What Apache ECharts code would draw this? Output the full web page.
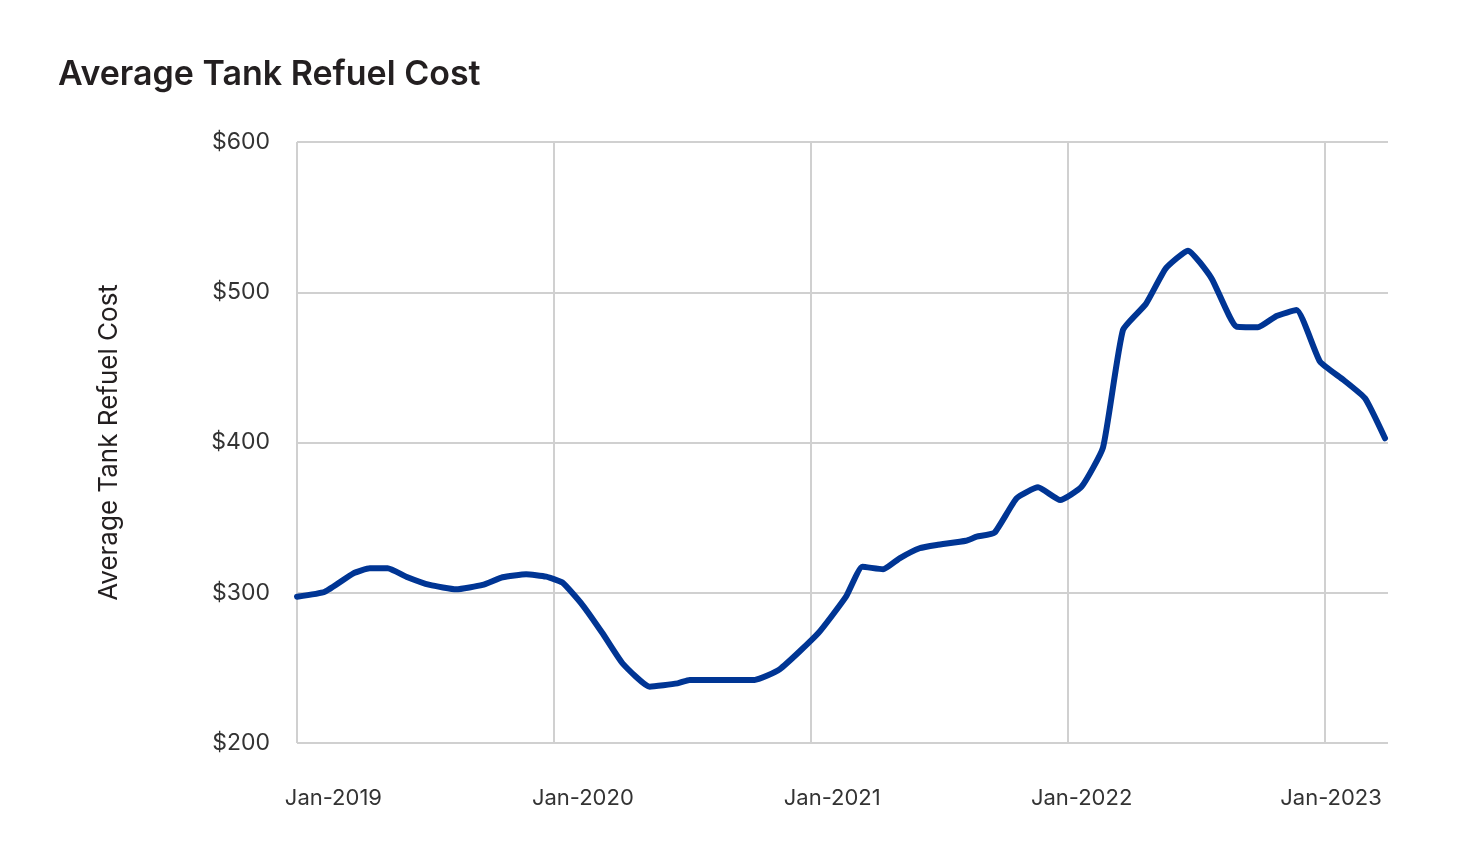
<!DOCTYPE html>
<html>
<head>
<meta charset="utf-8">
<script src="https://cdn.jsdelivr.net/npm/echarts@6/dist/echarts.min.js"></script>
<style>
html,body{margin:0;padding:0;background:#fff;}
#chart{width:1483px;height:865px;}
</style>
</head>
<body>
<div id="chart"></div>
<script>
// Data: observation dates and average tank refuel cost (USD)
const dates = [
  '2019-01-01','2019-02-10','2019-03-20','2019-04-13','2019-05-08','2019-06-04',
  '2019-07-07','2019-08-14','2019-09-21','2019-10-19','2019-11-22','2019-12-20',
  '2020-01-13','2020-02-11','2020-03-09','2020-04-07','2020-05-15','2020-06-24',
  '2020-07-11','2020-10-12','2020-11-17','2021-01-11','2021-02-20','2021-03-13',
  '2021-04-12','2021-05-05','2021-06-03','2021-06-27','2021-08-08','2021-08-23',
  '2021-09-18','2021-10-19','2021-11-19','2021-12-20','2022-01-20','2022-02-20',
  '2022-03-18','2022-04-20','2022-05-18','2022-06-19','2022-07-22','2022-08-27',
  '2022-09-27','2022-10-23','2022-11-21','2022-12-24','2023-01-27','2023-02-27','2023-03-25'
];
const costs = [
  297.4, 300.7, 312.9, 316.3, 316.3, 310.7,
  305.2, 302.3, 305.2, 310.3, 312.3, 310.7,
  306.7, 291.8, 273.0, 253.0, 237.5, 239.7,
  242.0, 242.0, 249.0, 273.0, 297.4, 317.3,
  315.6, 322.9, 329.6, 331.8, 334.6, 337.3,
  340.0, 362.9, 370.2, 361.7, 370.6, 396.7,
  474.9, 492.2, 515.9, 527.7, 509.3, 477.1,
  476.7, 484.2, 488.2, 453.8, 441.6, 429.4, 402.8
];
const xTickLabels = ['Jan-2019','Jan-2020','Jan-2021','Jan-2022','Jan-2023'];
const yTickValues = [200, 300, 400, 500, 600];
const chartTitle = 'Average Tank Refuel Cost';
const yAxisTitle = 'Average Tank Refuel Cost';

// months elapsed since Jan 2019 (value-axis unit)
function toMonths(s) {
  const [y, m, d] = s.split('-').map(Number);
  return (y - 2019) * 12 + (m - 1) + (d - 1) / 30;
}
const seriesData = dates.map((d, i) => [toMonths(d), costs[i]]);

// label anchor positions (layout: labels sit slightly right of year gridlines)
const labelStart = 1.70, labelStep = 11.645;
const labelVals = xTickLabels.map((_, i) => labelStart + i * labelStep);

const FONT = 'Inter, "Noto Sans", sans-serif';
const GRID = '#d0d0d0';

const chart = echarts.init(document.getElementById('chart'), null, {renderer: 'canvas'});
chart.setOption({
  backgroundColor: '#ffffff',
  animation: false,
  title: {
    text: chartTitle,
    left: 53, top: 53,
    textStyle: {fontFamily: FONT, fontSize: 34, fontWeight: 600, color: '#231f20'}
  },
  grid: {left: 297, right: 95, top: 142, bottom: 122, containLabel: false},
  xAxis: [{
    type: 'value',
    min: 0, max: 50.94, interval: 12,
    axisLine: {show: false},
    axisTick: {show: false},
    axisLabel: {show: false},
    splitLine: {show: true, showMaxLine: false, lineStyle: {color: GRID, width: 2}}
  }, {
    type: 'value',
    position: 'bottom',
    min: 0, max: 50.94,
    axisLine: {show: false},
    axisTick: {show: false},
    splitLine: {show: false},
    axisLabel: {
      show: true,
      customValues: labelVals,
      margin: 44,
      fontFamily: FONT, fontSize: 22, color: '#333333',
      formatter: function (v) {
        let best = 0, bd = 1e9;
        labelVals.forEach((p, i) => { const dd = Math.abs(p - v); if (dd < bd) { bd = dd; best = i; } });
        return xTickLabels[best];
      }
    }
  }],
  yAxis: {
    type: 'value',
    min: yTickValues[0], max: yTickValues[yTickValues.length - 1], interval: 100,
    name: yAxisTitle,
    nameLocation: 'middle',
    nameGap: 175,
    nameRotate: 90,
    nameTextStyle: {fontFamily: FONT, fontSize: 26, color: '#231f20'},
    axisLine: {show: false},
    axisTick: {show: false},
    axisLabel: {
      margin: 27,
      fontFamily: FONT, fontSize: 23, color: '#333333',
      formatter: v => '$' + v
    },
    splitLine: {show: true, lineStyle: {color: GRID, width: 2}}
  },
  series: [{
    type: 'line',
    xAxisIndex: 0,
    data: seriesData,
    showSymbol: false,
    smooth: 0.15,
    lineStyle: {color: '#003594', width: 6, join: 'round', cap: 'round'},
    itemStyle: {color: '#003594'}
  }]
});
</script>
</body>
</html>
